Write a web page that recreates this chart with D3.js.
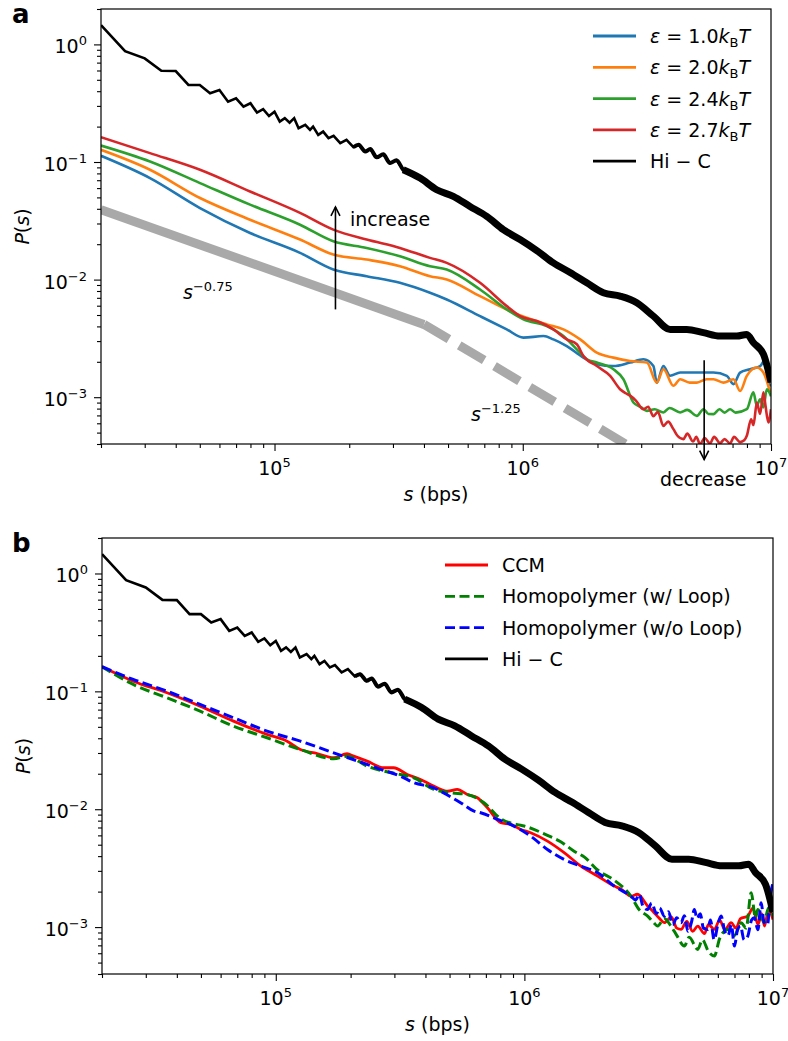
<!DOCTYPE html>
<html>
<head>
<meta charset="utf-8">
<script src="https://cdn.jsdelivr.net/npm/d3@7"></script>
<style>
  body { margin: 0; background: #fff; }
  svg { display: block; font-family: "DejaVu Sans", sans-serif; }
</style>
</head>
<body>
<svg id="chart" width="788" height="1041"></svg>
<script>
// contact probability P(s) vs genomic separation s (bps)
const S_DOMAIN = [2e4, 1e7];
const P_DOMAIN = [4e-4, 2];

// Hi-C, shared by both panels
const hic = [
  [20e3, 1.458], [25e3, 0.877], [30e3, 0.761], [35e3, 0.597], [40e3, 0.594], [45e3, 0.452],
  [50e3, 0.452], [55e3, 0.384], [60e3, 0.41], [65e3, 0.326], [70e3, 0.348], [75e3, 0.296],
  [80e3, 0.316], [85e3, 0.263], [90e3, 0.281], [95e3, 0.246], [100e3, 0.268], [105e3, 0.221],
  [110e3, 0.236], [115e3, 0.216], [120e3, 0.236], [125e3, 0.194], [133e3, 0.207], [139e3, 0.1875],
  [143e3, 0.2], [150e3, 0.17], [157e3, 0.1814], [165e3, 0.1595], [173e3, 0.1668], [184e3, 0.1446],
  [195e3, 0.1543], [208e3, 0.1338], [218e3, 0.14], [232e3, 0.1228], [243e3, 0.1287], [258e3, 0.1096],
  [274e3, 0.1162], [292e3, 0.0979], [310e3, 0.1034], [330e3, 0.0859], [386e3, 0.073], [450e3, 0.0581],
  [525e3, 0.051], [613e3, 0.0419], [716e3, 0.0345], [835e3, 0.0266], [975e3, 0.0219], [1.139e6, 0.01765],
  [1.329e6, 0.01388], [1.551e6, 0.01149], [1.811e6, 0.00939], [2.112e6, 0.00773], [2.466e6, 0.00723],
  [2.88e6, 0.00636], [3.36e6, 0.00489], [3.922e6, 0.00377], [4.58e6, 0.00377], [5.341e6, 0.00354],
  [6.234e6, 0.00331], [7.28e6, 0.00331], [7.99e6, 0.00342], [8.494e6, 0.00291], [9.32e6, 0.00232],
  [1e7, 0.00134]
];

// panel a: simulations at different attraction strengths
const eps10 = [
  [2e4, 0.1129], [31.5e3, 0.073], [50.1e3, 0.0406], [79.7e3, 0.0249], [126.7e3, 0.01688], [172.5e3, 0.01219],
  [235e3, 0.01069], [320e3, 0.00939], [423e3, 0.00773], [494e3, 0.00678], [673e3, 0.00489], [862e3, 0.00377],
  [1.006e6, 0.00321], [1.212e6, 0.00331], [1.329e6, 0.0031], [1.504e6, 0.00272], [1.755e6, 0.00217],
  [1.988e6, 0.00191], [2.319e6, 0.00184], [2.706e6, 0.00197], [3.062e6, 0.0021], [3.36e6, 0.00184],
  [3.466e6, 0.00133], [3.686e6, 0.00184], [3.922e6, 0.00152], [4.306e6, 0.00162], [5.028e6, 0.00162],
  [5.867e6, 0.00162], [6.64e6, 0.00152], [7.06e6, 0.00129], [7.507e6, 0.00162], [8.24e6, 0.00173],
  [9.04e6, 0.00184], [9.5e6, 0.0021], [9.76e6, 0.00133], [1e7, 0.00125]
];
const eps20 = [
  [2e4, 0.1269], [31.5e3, 0.0859], [50.1e3, 0.0494], [79.7e3, 0.0323], [126.7e3, 0.0219], [172.5e3, 0.01633],
  [235e3, 0.01481], [320e3, 0.013], [423e3, 0.01069], [494e3, 0.01002], [673e3, 0.00723], [917e3, 0.00523],
  [1.25e6, 0.00416], [1.458e6, 0.00377], [1.703e6, 0.0031], [1.988e6, 0.00239], [2.319e6, 0.00217],
  [2.706e6, 0.00203], [3.162e6, 0.00197], [3.466e6, 0.00133], [3.686e6, 0.00173], [4.045e6, 0.00125],
  [4.306e6, 0.00142], [4.7e6, 0.00133], [5.028e6, 0.00133], [5.5e6, 0.00142], [5.867e6, 0.00142],
  [6.43e6, 0.00133], [7.06e6, 0.00142], [7.507e6, 0.00113], [7.99e6, 0.00152], [8.767e6, 0.00179],
  [9.32e6, 0.00162], [9.92e6, 0.0011]
];
const eps24 = [
  [2e4, 0.138], [31.5e3, 0.101], [50.1e3, 0.0662], [79.7e3, 0.0434], [126.7e3, 0.0293], [172.5e3, 0.0212],
  [235e3, 0.0186], [320e3, 0.0158], [423e3, 0.013], [494e3, 0.01219], [673e3, 0.00824], [862e3, 0.00558],
  [1.006e6, 0.00459], [1.25e6, 0.00402], [1.458e6, 0.00331], [1.651e6, 0.00255], [1.812e6, 0.0021],
  [1.988e6, 0.00197], [2.319e6, 0.00173], [2.544e6, 0.00142], [2.791e6, 0.000902], [3.0e6, 0.00082],
  [3.162e6, 0.000765], [3.4e6, 0.00079], [3.686e6, 0.000742], [3.9e6, 0.00081], [4.306e6, 0.000742],
  [4.6e6, 0.00078], [5.028e6, 0.000694], [5.346e6, 0.000791], [5.6e6, 0.00072], [5.867e6, 0.000718],
  [6.2e6, 0.00079], [6.5e6, 0.00074], [6.84e6, 0.000791], [7.2e6, 0.00074], [7.99e6, 0.000791],
  [8.494e6, 0.0011], [8.767e6, 0.00085], [9.04e6, 0.000962], [9.32e6, 0.00082], [9.62e6, 0.00117], [1e7, 0.00102]
];
const eps27 = [
  [2e4, 0.1626], [31.5e3, 0.119], [50.1e3, 0.0859], [79.7e3, 0.0562], [126.7e3, 0.0369], [172.5e3, 0.0266],
  [235e3, 0.0219], [320e3, 0.0186], [423e3, 0.0153], [494e3, 0.01388], [673e3, 0.00939], [862e3, 0.00595],
  [975e3, 0.00489], [1.139e6, 0.00444], [1.329e6, 0.00377], [1.504e6, 0.0031], [1.651e6, 0.00282],
  [1.755e6, 0.00224], [1.988e6, 0.00184], [2.249e6, 0.00152], [2.466e6, 0.00117], [2.6e6, 0.00108],
  [2.706e6, 0.00103], [2.85e6, 0.00094], [3.062e6, 0.00079], [3.2e6, 0.00083], [3.36e6, 0.00069],
  [3.5e6, 0.00075], [3.686e6, 0.00057], [3.85e6, 0.00062], [4.045e6, 0.000535], [4.2e6, 0.00047],
  [4.438e6, 0.00044], [4.6e6, 0.00049], [4.856e6, 0.00042], [5.0e6, 0.00046], [5.18e6, 0.000399],
  [5.4e6, 0.00045], [5.684e6, 0.000405], [5.9e6, 0.00046], [6.234e6, 0.000407], [6.5e6, 0.00044],
  [6.842e6, 0.000405], [7.1e6, 0.00046], [7.507e6, 0.000415], [7.8e6, 0.00043], [7.99e6, 0.00047],
  [8.315e6, 0.00065], [8.5e6, 0.00058], [8.767e6, 0.0009], [9.04e6, 0.00072], [9.32e6, 0.0011],
  [9.5e6, 0.00085], [9.76e6, 0.00061], [1e7, 0.00079]
];

// power-law guides (two end points each)
const guide075 = [[2e4, 0.0393], [4e5, 0.00416]];
const guide125 = [[4e5, 0.00416], [1e7, 7.4e-5]];

// panel b: CCM vs homopolymers
const ccm = [
  [2e4, 0.1617], [26.7e3, 0.122], [36.5e3, 0.0973], [49.6e3, 0.0749], [67.6e3, 0.0559], [92.2e3, 0.0431],
  [111e3, 0.0378], [125.6e3, 0.0321], [146.6e3, 0.0297], [171e3, 0.02734], [193.6e3, 0.02956],
  [205.8e3, 0.02821], [233e3, 0.02559], [272e3, 0.02249], [298e3, 0.02249], [338e3, 0.01973],
  [382e3, 0.0179], [419e3, 0.01623], [446e3, 0.01522], [490e3, 0.01424], [537e3, 0.01472],
  [589e3, 0.01335], [647e3, 0.01252], [710e3, 0.0103], [803e3, 0.00768], [881e3, 0.00743],
  [967e3, 0.00674], [1.06e6, 0.00632], [1.238e6, 0.00536], [1.445e6, 0.00428], [1.687e6, 0.00329],
  [1.97e6, 0.00271], [2.297e6, 0.00223], [2.45e6, 0.0021], [2.683e6, 0.00183], [2.85e6, 0.0019],
  [3.132e6, 0.00151], [3.3e6, 0.00135], [3.5e6, 0.00118], [3.653e6, 0.00109], [3.9e6, 0.00122],
  [4.1e6, 0.00098], [4.266e6, 0.000956], [4.5e6, 0.00112], [4.75e6, 0.00092], [4.981e6, 0.00102],
  [5.3e6, 0.00088], [5.5e6, 0.00105], [5.81e6, 0.000956], [6.1e6, 0.00115], [6.4e6, 0.00095],
  [6.785e6, 0.00109], [7.1e6, 0.00098], [7.4e6, 0.00118], [7.92e6, 0.00124], [8.3e6, 0.00145],
  [8.7e6, 0.00105], [9.0e6, 0.0013], [9.24e6, 0.00102], [9.6e6, 0.0014], [1e7, 0.00116]
];
const homoLoop = [
  [2e4, 0.1617], [26.7e3, 0.1144], [36.5e3, 0.0882], [49.6e3, 0.0679], [67.6e3, 0.0507], [92.2e3, 0.0404],
  [125.6e3, 0.0321], [171e3, 0.0268], [193.6e3, 0.02821], [233e3, 0.0232], [272e3, 0.02104],
  [317e3, 0.01973], [359e3, 0.0185], [432e3, 0.01472], [505e3, 0.0138], [589e3, 0.01335],
  [688e3, 0.01135], [803e3, 0.0083], [937e3, 0.0074], [997e3, 0.0072], [1.238e6, 0.006],
  [1.4e6, 0.0053], [1.585e6, 0.0044], [1.75e6, 0.0039], [1.97e6, 0.00305], [2.297e6, 0.0025],
  [2.683e6, 0.00183], [2.9e6, 0.0014], [3.132e6, 0.00124], [3.3e6, 0.0011], [3.437e6, 0.00102],
  [3.65e6, 0.00118], [3.888e6, 0.00102], [4.1e6, 0.00085], [4.398e6, 0.00069], [4.6e6, 0.00082],
  [4.981e6, 0.000647], [5.2e6, 0.00078], [5.5e6, 0.00062], [5.81e6, 0.000568], [6.1e6, 0.0008],
  [6.58e6, 0.000956], [7.0e6, 0.00085], [7.44e6, 0.00109], [7.8e6, 0.00098], [8.17e6, 0.00196],
  [8.5e6, 0.0012], [8.69e6, 0.00141], [9.2e6, 0.0011], [9.6e6, 0.00145], [1e7, 0.00124]
];
const homoNoLoop = [
  [2e4, 0.1617], [26.7e3, 0.1262], [36.5e3, 0.1004], [49.6e3, 0.0774], [67.6e3, 0.0597], [92.2e3, 0.046],
  [125.6e3, 0.0378], [171e3, 0.0301], [233e3, 0.024], [264e3, 0.0218], [317e3, 0.0191], [359e3, 0.0168],
  [432e3, 0.0152], [490e3, 0.0132], [560e3, 0.0112], [627e3, 0.00964], [667e3, 0.00934], [779e3, 0.0082],
  [908e3, 0.00719], [1.06e6, 0.00591], [1.238e6, 0.00456], [1.445e6, 0.00375], [1.687e6, 0.00329],
  [1.97e6, 0.00289], [2.297e6, 0.00223], [2.683e6, 0.00183], [2.8e6, 0.0017], [2.9e6, 0.0019],
  [3.0e6, 0.0015], [3.132e6, 0.00141], [3.25e6, 0.0016], [3.4e6, 0.0013], [3.5e6, 0.00145],
  [3.653e6, 0.00124], [3.8e6, 0.00135], [3.95e6, 0.00105], [4.1e6, 0.0012], [4.266e6, 0.00109],
  [4.4e6, 0.00125], [4.55e6, 0.00092], [4.7e6, 0.0011], [4.827e6, 0.00141], [4.95e6, 0.00118],
  [5.1e6, 0.0013], [5.25e6, 0.00098], [5.466e6, 0.000956], [5.6e6, 0.00115], [5.8e6, 0.00078],
  [6.0e6, 0.00105], [6.183e6, 0.00124], [6.4e6, 0.00092], [6.6e6, 0.00085], [6.8e6, 0.00105],
  [6.996e6, 0.00069], [7.2e6, 0.00095], [7.4e6, 0.00102], [7.65e6, 0.00078], [7.92e6, 0.000839],
  [8.2e6, 0.00115], [8.4e6, 0.0012], [8.7e6, 0.00095], [8.96e6, 0.00161], [9.2e6, 0.0011],
  [9.5e6, 0.00105], [9.75e6, 0.0018], [1e7, 0.00238]
];

const xMajorTicks = [1e5, 1e6, 1e7];
const yMajorTicks = [1, 1e-1, 1e-2, 1e-3];

const FONT = 19;
const SUP = 13;
const svg = d3.select("#chart");

function minorTicks(domain) {
  let out = [];
  for (let k = Math.floor(Math.log10(domain[0])); k <= Math.ceil(Math.log10(domain[1])); k++) {
    for (let m = 2; m <= 9; m++) {
      const v = m * Math.pow(10, k);
      if (v >= domain[0] * 0.999 && v <= domain[1] * 1.001) out.push(v);
    }
  }
  return out;
}

// superscript number label "10^n"
function powLabel(text, exp) {
  text.append("tspan").text("10");
  text.append("tspan").attr("dy", -8).attr("font-size", SUP)
    .text(exp < 0 ? "\u2212" + (-exp) : String(exp));
}

function setupPanel(p) {
  const x = d3.scaleLog().domain(S_DOMAIN).range([p.left, p.right]);
  const y = d3.scaleLog().domain(P_DOMAIN).range([p.bottom, p.top]);
  const g = svg.append("g");
  g.append("clipPath").attr("id", "clip-" + p.name).append("rect")
    .attr("x", p.left).attr("y", p.top)
    .attr("width", p.right - p.left).attr("height", p.bottom - p.top);
  const plot = g.append("g").attr("clip-path", "url(#clip-" + p.name + ")");
  const line = d3.line().x(d => x(d[0])).y(d => y(d[1]));
  const smooth = d3.line().x(d => x(d[0])).y(d => y(d[1])).curve(d3.curveMonotoneX);
  return { p, x, y, g, plot, line, smooth };
}

function drawAxes(ax) {
  const p = ax.p;
  const tickStyle = s => s.call(s => s.select(".domain").remove())
    .selectAll("line").attr("stroke", "#000").attr("stroke-width", 1.1);

  ax.g.append("g").attr("transform", "translate(0," + p.bottom + ")")
    .call(d3.axisBottom(ax.x).tickValues(xMajorTicks).tickSize(7).tickFormat(""))
    .call(tickStyle);
  ax.g.append("g").attr("transform", "translate(0," + p.bottom + ")")
    .call(d3.axisBottom(ax.x).tickValues(minorTicks(S_DOMAIN)).tickSize(4).tickFormat(""))
    .call(tickStyle);
  ax.g.append("g").attr("transform", "translate(" + p.left + ",0)")
    .call(d3.axisLeft(ax.y).tickValues(yMajorTicks).tickSize(7).tickFormat(""))
    .call(tickStyle);
  ax.g.append("g").attr("transform", "translate(" + p.left + ",0)")
    .call(d3.axisLeft(ax.y).tickValues(minorTicks(P_DOMAIN)).tickSize(4).tickFormat(""))
    .call(tickStyle);

  xMajorTicks.forEach(v => {
    const t = ax.g.append("text").attr("x", ax.x(v)).attr("y", p.bottom + 31)
      .attr("text-anchor", "middle").attr("font-size", FONT);
    powLabel(t, Math.round(Math.log10(v)));
  });
  yMajorTicks.forEach(v => {
    const t = ax.g.append("text").attr("x", p.left - 14).attr("y", ax.y(v) + 9)
      .attr("text-anchor", "end").attr("font-size", FONT);
    powLabel(t, Math.round(Math.log10(v)));
  });

  // axis titles
  const xl = ax.g.append("text").attr("x", (p.left + p.right) / 2).attr("y", p.bottom + 57)
    .attr("text-anchor", "middle").attr("font-size", FONT);
  xl.append("tspan").attr("font-style", "italic").text("s");
  xl.append("tspan").text(" (bps)");

  const yl = ax.g.append("text")
    .attr("transform", "translate(" + (p.left - 72) + "," + ((p.top + p.bottom) / 2) + ") rotate(-90)")
    .attr("text-anchor", "middle").attr("font-size", FONT);
  yl.append("tspan").attr("font-style", "italic").text("P");
  yl.append("tspan").text("(");
  yl.append("tspan").attr("font-style", "italic").text("s");
  yl.append("tspan").text(")");

  ax.g.append("rect").attr("x", p.left).attr("y", p.top)
    .attr("width", p.right - p.left).attr("height", p.bottom - p.top)
    .attr("fill", "none").attr("stroke", "#000").attr("stroke-width", 1.2);

  ax.g.append("text").attr("x", 12).attr("y", p.top + 14)
    .attr("font-size", 26).attr("font-weight", "bold").text(p.name);
}

function drawSeries(ax, list) {
  list.forEach(s => {
    ax.plot.append("path").datum(s.data)
      .attr("d", ax.smooth)
      .attr("fill", "none")
      .attr("stroke", s.color)
      .attr("stroke-width", s.width)
      .attr("stroke-dasharray", s.dash || null)
      .attr("stroke-linejoin", "round");
  });
}

// Hi-C: thin zig-zag at short range, dense noisy band further out
function drawHic(ax) {
  ax.plot.append("path").datum(hic).attr("d", ax.line)
    .attr("fill", "none").attr("stroke", "#000").attr("stroke-width", 2.6)
    .attr("stroke-linejoin", "miter");
  ax.plot.append("path").datum(hic.filter(d => d[0] >= 2.0e5)).attr("d", ax.smooth)
    .attr("fill", "none").attr("stroke", "#000").attr("stroke-width", 4)
    .attr("stroke-linejoin", "round");
  ax.plot.append("path").datum(hic.filter(d => d[0] >= 3.3e5)).attr("d", ax.smooth)
    .attr("fill", "none").attr("stroke", "#000").attr("stroke-width", 7)
    .attr("stroke-linejoin", "round");
}

function legend(ax, x0, y0, items) {
  items.forEach((it, i) => {
    const yy = y0 + i * 31.3;
    ax.g.append("line").attr("x1", x0).attr("x2", x0 + 43).attr("y1", yy).attr("y2", yy)
      .attr("stroke", it.color).attr("stroke-width", 2.8)
      .attr("stroke-dasharray", it.dash || null);
    const t = ax.g.append("text").attr("x", x0 + 57).attr("y", yy + 7).attr("font-size", FONT);
    it.label(t);
  });
}

function epsLabel(val) {
  return t => {
    t.append("tspan").attr("font-style", "italic").text("\u03b5");
    t.append("tspan").text(" = " + val);
    t.append("tspan").attr("font-style", "italic").text("k");
    t.append("tspan").attr("font-size", SUP).attr("dy", 4).text("B");
    t.append("tspan").attr("font-style", "italic").attr("dy", -4).text("T");
  };
}
const plain = s => t => t.text(s);

function arrow(ax, from, to) {
  const x1 = ax.x(from[0]), y1 = ax.y(from[1]);
  const x2 = ax.x(to[0]), y2 = ax.y(to[1]);
  const dir = Math.sign(y2 - y1);
  ax.g.append("line").attr("x1", x1).attr("y1", y1).attr("x2", x2).attr("y2", y2)
    .attr("stroke", "#000").attr("stroke-width", 1.6);
  ax.g.append("path")
    .attr("d", d3.line()([[x2 - 4.5, y2 - dir * 9], [x2, y2], [x2 + 4.5, y2 - dir * 9]]))
    .attr("fill", "none").attr("stroke", "#000").attr("stroke-width", 1.6);
}

function powerText(ax, at, exp) {
  const t = ax.g.append("text").attr("x", ax.x(at[0])).attr("y", ax.y(at[1])).attr("font-size", FONT);
  t.append("tspan").attr("font-style", "italic").text("s");
  t.append("tspan").attr("font-size", SUP).attr("dy", -8).text(exp);
}

// ---- panel a ----
const A = setupPanel({ name: "a", left: 101, right: 771, top: 9, bottom: 444 });
A.plot.append("path").datum(guide075).attr("d", A.line)
  .attr("fill", "none").attr("stroke", "#a9a9a9").attr("stroke-width", 9);
A.plot.append("path").datum(guide125).attr("d", A.line)
  .attr("fill", "none").attr("stroke", "#a9a9a9").attr("stroke-width", 9)
  .attr("stroke-dasharray", "29,12");
drawSeries(A, [
  { data: eps10, color: "#1f77b4", width: 2.6 },
  { data: eps20, color: "#ff7f0e", width: 2.6 },
  { data: eps24, color: "#2ca02c", width: 2.6 },
  { data: eps27, color: "#d62728", width: 2.6 }
]);
drawHic(A);
drawAxes(A);
arrow(A, [1.76e5, 0.00558], [1.76e5, 0.0415]);
arrow(A, [5.38e6, 0.00206], [5.38e6, 2.95e-4]);
A.g.append("text").attr("x", A.x(2.015e5)).attr("y", A.y(0.02876)).attr("font-size", FONT).text("increase");
A.g.append("text").attr("x", A.x(5.33e6)).attr("y", A.y(1.76e-4)).attr("font-size", FONT)
  .attr("text-anchor", "middle").text("decrease");
powerText(A, [4.28e4, 0.00678], "\u22120.75");
powerText(A, [6.19e5, 6.26e-4], "\u22121.25");
legend(A, 593, 36, [
  { color: "#1f77b4", label: epsLabel("1.0") },
  { color: "#ff7f0e", label: epsLabel("2.0") },
  { color: "#2ca02c", label: epsLabel("2.4") },
  { color: "#d62728", label: epsLabel("2.7") },
  { color: "#000", label: plain("Hi \u2212 C") }
]);

// ---- panel b ----
const B = setupPanel({ name: "b", left: 102, right: 773, top: 538, bottom: 974 });
drawSeries(B, [
  { data: ccm, color: "#ff0000", width: 2.8 },
  { data: homoLoop, color: "#008000", width: 3, dash: "10,4.5" },
  { data: homoNoLoop, color: "#0000ff", width: 3, dash: "10,4.5" }
]);
drawHic(B);
drawAxes(B);
legend(B, 445, 565, [
  { color: "#ff0000", label: plain("CCM") },
  { color: "#008000", dash: "10,4.5", label: plain("Homopolymer (w/ Loop)") },
  { color: "#0000ff", dash: "10,4.5", label: plain("Homopolymer (w/o Loop)") },
  { color: "#000", label: plain("Hi \u2212 C") }
]);
</script>
</body>
</html>
